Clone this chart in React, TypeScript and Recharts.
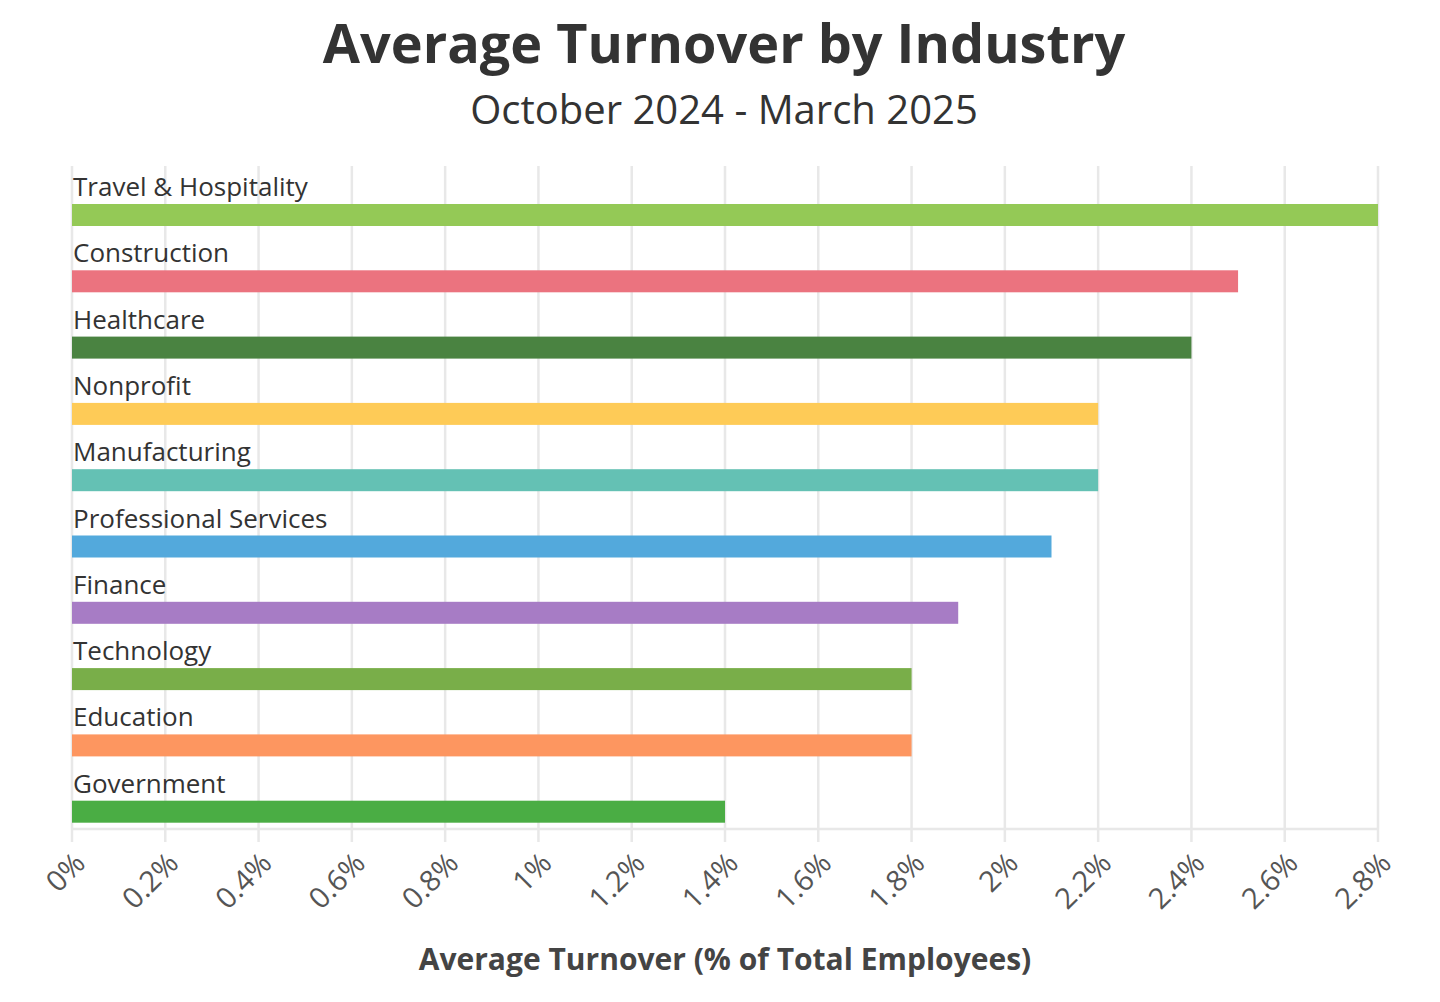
import * as React from "react";
import { BarChart, Bar, XAxis, YAxis, CartesianGrid, Cell } from "recharts";

const industries = [
  "Travel & Hospitality",
  "Construction",
  "Healthcare",
  "Nonprofit",
  "Manufacturing",
  "Professional Services",
  "Finance",
  "Technology",
  "Education",
  "Government",
];
const turnover = [2.8, 2.5, 2.4, 2.2, 2.2, 2.1, 1.9, 1.8, 1.8, 1.4];
const colors = [
  "#94c956",
  "#eb737f",
  "#4a8341",
  "#fecb57",
  "#64c1b4",
  "#53a9dc",
  "#a77cc5",
  "#79ae49",
  "#fd9660",
  "#4aad44",
];
const xTicks = [0, 0.2, 0.4, 0.6, 0.8, 1, 1.2, 1.4, 1.6, 1.8, 2, 2.2, 2.4, 2.6, 2.8];

const data = industries.map((name, i) => ({ name, value: turnover[i] }));

const FONT = "'Open Sans', sans-serif";

const BarWithLabel = (props: any) => {
  const { x, y, width, height, fill, payload } = props;
  const shift = 16;
  return (
    <g>
      <text x={x + 1} y={y + shift - 8} fontSize={26} fill="#333" fontFamily={FONT}>
        {payload.name}
      </text>
      <rect x={x} y={y + shift} width={width} height={height} fill={fill} />
    </g>
  );
};

const Tick = (props: any) => {
  const { x, y, payload } = props;
  const label = `${+Number(payload.value).toFixed(1)}%`;
  const ax = x + 15;
  const ay = y + 21;
  return (
    <text
      x={ax}
      y={ay}
      transform={`rotate(-45 ${ax} ${ay})`}
      textAnchor="end"
      fontSize={29}
      fill="#555"
      fontFamily={FONT}
    >
      {label}
    </text>
  );
};

export default function App() {
  return (
    <div style={{ position: "absolute", left: 0, top: 0, width: 1440, height: 1002, background: "#fff" }}>
      <BarChart
        width={1440}
        height={1002}
        data={data}
        layout="vertical"
        margin={{ top: 166, right: 62, left: 72, bottom: 0 }}
        barSize={22}
      >
        <CartesianGrid horizontal={false} stroke="#e8e8e8" strokeWidth={2.5} />
        <XAxis
          type="number"
          domain={[0, 2.8]}
          ticks={xTicks}
          interval={0}
          height={173}
          axisLine={{ stroke: "#e8e8e8", strokeWidth: 2.5 }}
          tickLine={{ stroke: "#e8e8e8", strokeWidth: 2.5 }}
          tickSize={13}
          tick={<Tick />}
        />
        <YAxis type="category" dataKey="name" hide width={0} />
        <Bar dataKey="value" isAnimationActive={false} shape={<BarWithLabel />}>
          {data.map((d, i) => (
            <Cell key={d.name} fill={colors[i]} />
          ))}
        </Bar>
      </BarChart>
      <svg
        width={1440}
        height={1002}
        style={{ position: "absolute", left: 0, top: 0, pointerEvents: "none" }}
      >
        <text x={724} y={63} textAnchor="middle" fontSize={54} fontWeight={700} fill="#333" fontFamily={FONT}>
          Average Turnover by Industry
        </text>
        <text x={724} y={124} textAnchor="middle" fontSize={40} fill="#333" fontFamily={FONT}>
          October 2024 - March 2025
        </text>
        <text x={725} y={970} textAnchor="middle" fontSize={30} fontWeight={700} fill="#444" fontFamily={FONT}>
          Average Turnover (% of Total Employees)
        </text>
      </svg>
    </div>
  );
}
